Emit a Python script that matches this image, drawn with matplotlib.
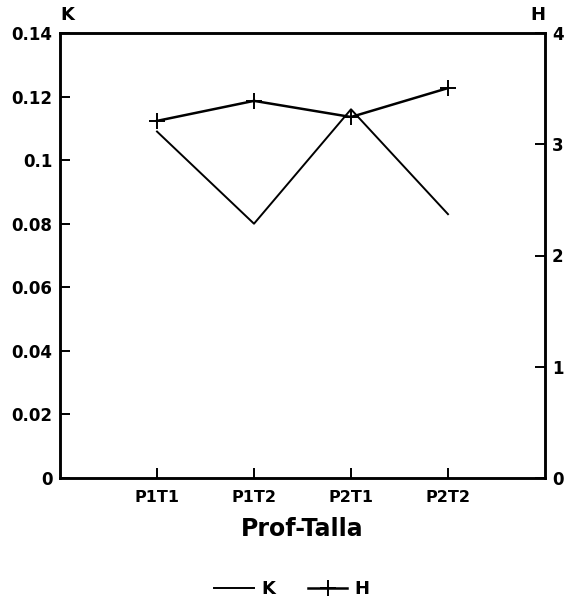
import matplotlib
matplotlib.use("Agg")
import matplotlib.pyplot as plt

categories = ["P1T1", "P1T2", "P2T1", "P2T2"]
k_values = [0.109, 0.080, 0.116, 0.083]
h_values = [3.21, 3.39, 3.245, 3.505]
k_ticks = [0, 0.02, 0.04, 0.06, 0.08, 0.1, 0.12, 0.14]
k_tick_labels = ["0", "0.02", "0.04", "0.06", "0.08", "0.1", "0.12", "0.14"]
h_ticks = [0, 1, 2, 3, 4]

plt.rcParams['font.family'] = ['DejaVu Sans']

fig = plt.figure(figsize=(5.65, 6.03), dpi=100)
ax = fig.add_axes([60/565, 1 - 478/603, 485/565, 445/603])
ax2 = ax.twinx()

x = list(range(1, len(categories) + 1))
lk, = ax.plot(x, k_values, color='black', lw=1.4)
lh, = ax2.plot(x, h_values, color='black', lw=1.8, marker='+', markersize=11, markeredgewidth=1.4)

ax.set_xlim(0, 5)
ax.set_ylim(0, 0.14)
ax2.set_ylim(0, 4)
ax.set_xticks(x)
ax.set_xticklabels(categories, fontweight='bold', fontsize=11.5)
ax.set_yticks(k_ticks)
ax.set_yticklabels(k_tick_labels, fontweight='bold', fontsize=12)
ax2.set_yticks(h_ticks)
ax2.set_yticklabels([str(t) for t in h_ticks], fontweight='bold', fontsize=12)

ax.tick_params(axis='x', direction='in', length=7, width=1.4, pad=9)
ax.tick_params(axis='y', direction='in', length=7, width=1.4, pad=5.5)
ax2.tick_params(axis='y', direction='in', length=7, width=1.4, pad=5)
for a in (ax, ax2):
    for s in a.spines.values():
        s.set_linewidth(1.8)

ax.set_xlabel("Prof-Talla", fontsize=17, fontweight='bold', labelpad=8)
ax.text(0, 1.02, "K", transform=ax.transAxes, ha='left', va='bottom', fontsize=13, fontweight='bold')
ax2.text(1, 1.02, "H", transform=ax2.transAxes, ha='right', va='bottom', fontsize=13, fontweight='bold')

fig.legend([lk, lh], ["K", "H"], loc='center', bbox_to_anchor=(292/565, 1 - 589/603),
           ncol=2, frameon=False, fontsize=13, handlelength=2.2, columnspacing=1.8, handletextpad=0.4,
           prop={'weight': 'bold', 'size': 13})

fig.savefig("out.png", dpi=100)
